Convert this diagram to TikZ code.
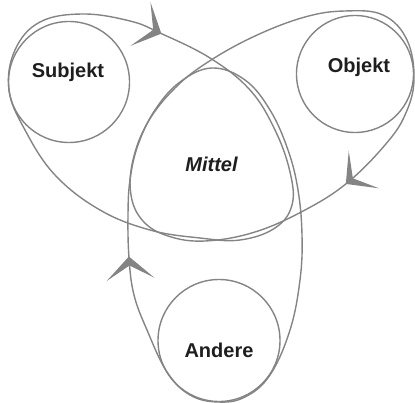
\documentclass[tikz,border=0pt]{standalone}
\usepackage{fontspec}
\setmainfont{Liberation Sans}
\usetikzlibrary{arrows.meta,decorations.markings}
\definecolor{lg}{RGB}{132,132,132}
\definecolor{tx}{RGB}{30,30,30}
\begin{document}
\begin{tikzpicture}[x=1pt,y=-1pt,
  ring/.style={circle, draw=lg, line width=1.4pt, inner sep=0pt},
  lbl/.style={font=\fontsize{20}{20}\selectfont\bfseries, text=tx, anchor=base},
  loopline/.style={draw=lg, line width=1.4pt},
  tipmark/.style={postaction={decorate, decoration={markings, mark=at position 1.5pt with {\arrow{Stealth[length=23pt,width=48pt,inset=14pt,lg]}}}}}
]
\useasboundingbox (0,0) rectangle (415,403);

% circles
\node[ring, minimum size=121pt] (sc) at (69,82) {};
\node[ring, minimum size=117pt] (oc) at (355,74) {};
\node[ring, minimum size=122pt] (ac) at (219,340.5) {};

% loops (the smooth cycle starts at its second point)
\draw[loopline, tipmark] plot[smooth cycle, tension=0.65] coordinates {
  (130,21) (160,33) (210,58) (250,90) (275,130) (290,172) (292,205) (275,228)
  (240,240) (200,238) (150,230) (100,210) (55,175) (25,130) (9,90)
  (15,50) (40,22) (83,14)};
\draw[loopline, tipmark] plot[smooth cycle, tension=0.65] coordinates {
  (385,145) (347,183) (305,210) (255,232) (205,241) (168,236) (143,221) (131,195)
  (133,160) (148,122) (175,88) (208,62) (255,36) (305,17) (345,11)
  (383,15) (407,40) (414,80) (405,115)};
\draw[loopline, tipmark] plot[smooth cycle, tension=0.65] coordinates {
  (134,295) (129,258) (128,215) (130,180) (138,145) (155,110) (180,82) (212,68)
  (245,80) (270,110) (288,150) (298,190) (302,235) (300,280) (290,330)
  (270,375) (245,397) (218,402) (190,395) (167,372) (147,330)};

% labels
\node[lbl] (st) at (68,78) {Subjekt};
\node[lbl] (ot) at (359,73) {Objekt};
\node[lbl, font=\fontsize{20}{20}\selectfont\bfseries\itshape] (mt) at (211.5,172) {Mittel};
\node[lbl] (at) at (219,357) {Andere};
\end{tikzpicture}
\end{document}
